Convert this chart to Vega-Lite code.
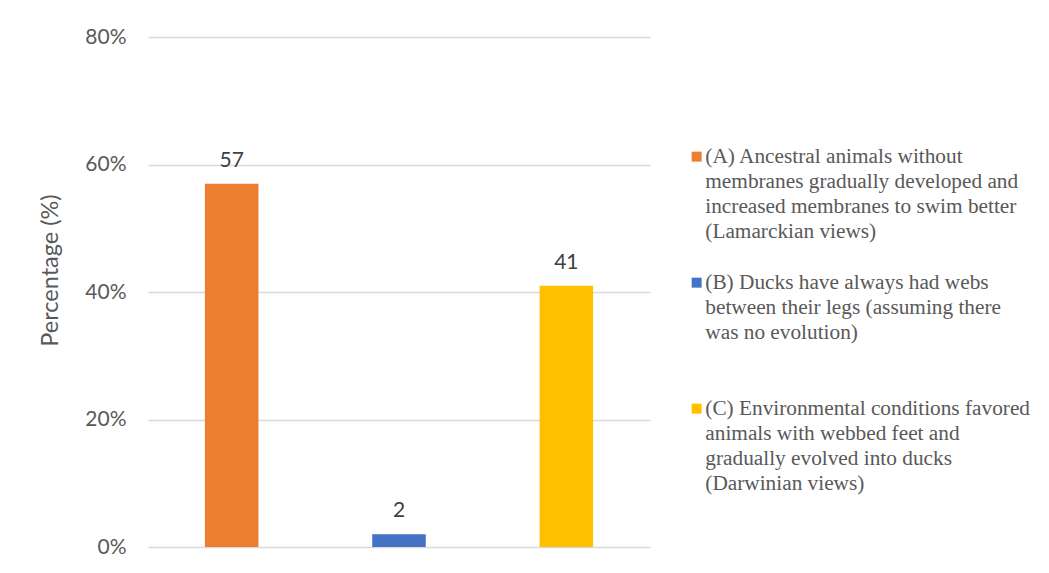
{
  "$schema": "https://vega.github.io/schema/vega-lite/v6.json",
  "width": 502,
  "height": 510,
  "autosize": "none",
  "padding": {"left": 148, "top": 37, "right": 399, "bottom": 26},
  "background": "white",
  "config": {
    "view": {"stroke": null},
    "font": "Lato"
  },
  "data": {
    "values": [
      {"option": "(A) Ancestral animals without\nmembranes gradually developed and\nincreased membranes to swim better\n(Lamarckian views)", "percent": 57},
      {"option": "(B) Ducks have always had webs\nbetween their legs (assuming there\nwas no evolution)", "percent": 2},
      {"option": "(C) Environmental conditions favored\nanimals with webbed feet and\ngradually evolved into ducks\n(Darwinian views)", "percent": 41}
    ]
  },
  "encoding": {
    "x": {
      "field": "option",
      "type": "nominal",
      "sort": null,
      "axis": null,
      "scale": {"paddingInner": 0.68, "paddingOuter": 0.34}
    },
    "y": {
      "field": "percent",
      "type": "quantitative",
      "scale": {"domain": [0, 80]},
      "axis": {
        "values": [0, 20, 40, 60, 80],
        "labelExpr": "datum.value + '%'",
        "title": "Percentage (%)",
        "titleFont": "Lato",
        "titleFontSize": 23.5,
        "titleFontWeight": "normal",
        "titleColor": "#595959",
        "titlePadding": 22,
        "titleY": 233,
        "labelFont": "Lato",
        "labelFontSize": 21,
        "labelColor": "#595959",
        "labelPadding": 22,
        "domain": false,
        "ticks": false,
        "gridColor": "#D9D9D9",
        "gridWidth": 1.3
      }
    }
  },
  "layer": [
    {
      "mark": {"type": "bar"},
      "encoding": {
        "color": {
          "field": "option",
          "type": "nominal",
          "sort": null,
          "scale": {"range": ["#ED7D31", "#4472C4", "#FFC000"]},
          "legend": {
            "title": null,
            "orient": "none",
            "legendX": 538,
            "legendY": 109,
            "symbolType": "square",
            "symbolSize": 100,
            "symbolStrokeWidth": 0,
            "labelFont": "Liberation Serif",
            "labelFontSize": 21.3,
            "labelColor": "#595959",
            "labelLimit": 500,
            "labelOffset": -2,
            "labelBaseline": "top",
            "rowPadding": 29,
            "gridAlign": "all",
            "labelExpr": "split(datum.label, '\\n')",
            "encode": {
              "labels": {"update": {"lineHeight": {"value": 25}, "dy": {"value": -11}}}
            }
          }
        }
      }
    },
    {
      "mark": {"type": "text", "baseline": "alphabetic", "dy": -17, "font": "Lato", "fontSize": 21, "color": "#404040"},
      "encoding": {
        "text": {"field": "percent", "type": "quantitative"}
      }
    }
  ]
}
